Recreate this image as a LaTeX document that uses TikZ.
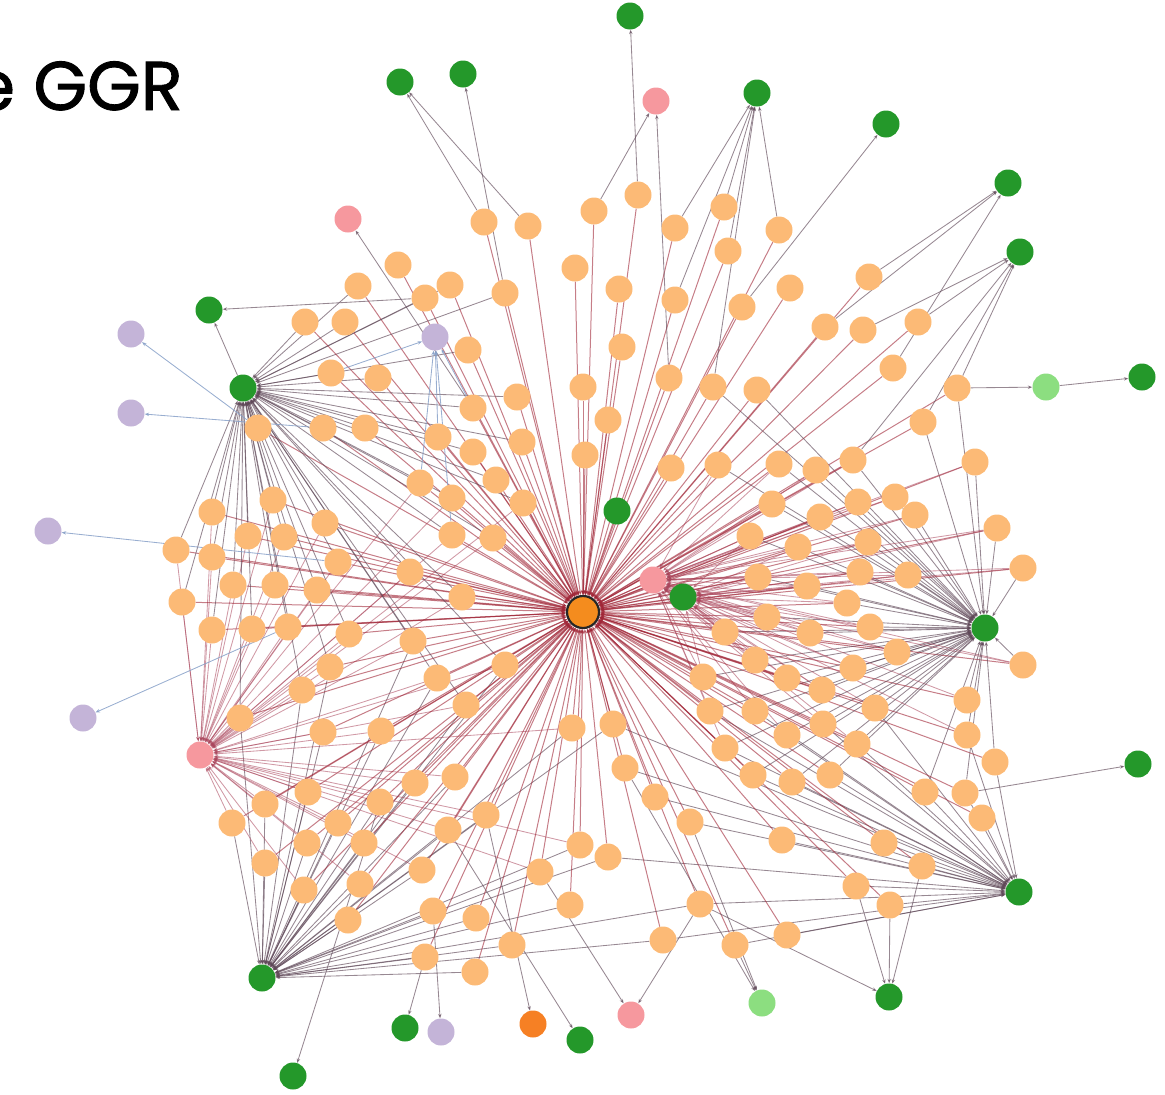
\documentclass[tikz,border=0pt]{standalone}
\usepackage{fontspec}
\newfontfamily\ttlfont[BoldFont=*,BoldFeatures={FakeBold=1.3}]{Poppins}
\usetikzlibrary{arrows.meta,backgrounds}
\definecolor{orn}{RGB}{252,186,118}
\definecolor{grn}{RGB}{36,152,42}
\definecolor{lgrn}{RGB}{140,222,128}
\definecolor{pnk}{RGB}{246,152,158}
\definecolor{prp}{RGB}{196,180,216}
\definecolor{dorn}{RGB}{246,128,36}
\definecolor{hubc}{RGB}{244,140,30}
\definecolor{redl}{RGB}{160,38,55}
\definecolor{grayl}{RGB}{95,72,88}
\definecolor{pinkl}{RGB}{170,70,92}
\definecolor{bluel}{RGB}{135,160,200}
\tikzset{
  vtx/.style={circle,inner sep=0pt,minimum size=27pt,draw=none},
  onode/.style={vtx,fill=orn},
  gnode/.style={vtx,fill=grn,minimum size=27pt},
  lgnode/.style={vtx,fill=lgrn},
  pnode/.style={vtx,fill=pnk},
  unode/.style={vtx,fill=prp},
  dnode/.style={vtx,fill=dorn},
  chub/.style={vtx,fill=hubc,draw=black!85,line width=2.2pt,minimum size=32pt},
  tip/.style={-{Stealth[length=4.5pt,width=3.5pt]}},
  redline/.style={tip,draw=redl,line width=1pt,opacity=0.6},
  grayline/.style={tip,draw=grayl,line width=0.85pt,opacity=0.65},
  pinkline/.style={tip,draw=pinkl,line width=0.85pt,opacity=0.55},
  blueline/.style={tip,draw=bluel,line width=0.85pt,opacity=0.85},
}
\def\olist{484/222, 528/226, 398/265, 358/286, 425/298, 450/285, 505/293, 305/322, 345/322, 468/350,
331/373, 378/378, 517/397, 473/408, 258/428, 323/428, 365/428, 438/437, 473/452, 522/442,
594/211, 638/195, 675/228, 724/207, 779/230, 728/251, 575/268, 619/289, 675/300, 790/288,
742/307, 869/277, 825/327, 863/330, 918/322, 893/368, 622/347, 583/387, 669/378, 713/387,
757/390, 957/388, 923/422, 608/420, 585/455, 671/468, 718/465, 779/464, 816/470, 853/460,
975/462, 420/483, 452/498, 496/480, 523/503, 452/535, 493/538, 273/500, 212/512, 325/523,
248/536, 284/537, 176/550, 212/557, 338/562, 410/572, 233/585, 275/585, 317/590, 462/597,
182/602, 212/630, 252/629, 288/627, 349/634, 413/641, 330/667, 505/665, 437/678, 302/690,
466/705, 240/718, 323/732, 381/731, 572/728, 772/504, 820/517, 858/502, 895/497, 915/515,
997/528, 1023/568, 750/536, 798/547, 868/542, 758/577, 807/586, 860/572, 908/575, 847/603,
767/617, 725/632, 810/633, 870/627, 897/652, 755/660, 703/677, 787/678, 853/668, 822/690,
710/711, 755/711, 875/708, 1023/665, 967/700, 613/724, 823/724, 787/735, 857/744, 967/735,
995/762, 625/768, 725/748, 753/775, 792/782, 830/775, 655/797, 690/822, 925/792, 965/793,
982/818, 608/857, 782/840, 884/843, 922/866, 856/886, 890/905, 700/904, 663/940, 735/945,
787/935, 265/804, 308/792, 232/823, 380/802, 415/783, 455/777, 338/823, 307/843, 364/843,
448/830, 486/815, 265/863, 304/890, 360/884, 422/870, 540/872, 580/845, 348/920, 433/911,
476/918, 512/945, 570/905, 425/957, 475/972}
\begin{document}
\begin{tikzpicture}[x=1pt,y=-1pt]
\useasboundingbox (0,0) rectangle (1165,1095);
\node[anchor=base east,inner sep=0pt,font=\ttlfont\bfseries\fontsize{69}{69}\selectfont] (title) at (183,110) {e GGR};
% hubs
\node[chub] (C) at (583,612) {};
\node[gnode] (G1) at (243,388) {};
\node[gnode] (G2) at (985,628) {};
\node[gnode] (G3) at (1019,892) {};
\node[gnode] (G4) at (262,978) {};
\node[pnode] (P1) at (200,755) {};
\node[pnode] (P2) at (653,580) {};
\node[gnode] (G5) at (683,597) {};
\node[gnode] (G6) at (617,511) {};
% outer nodes
\node[gnode] (T1) at (630,16) {};
\node[gnode] (T2) at (463,74) {};
\node[gnode] (T3) at (400,82) {};
\node[pnode] (K1) at (656,101) {};
\node[gnode] (T4) at (757,93) {};
\node[gnode] (T5) at (886,124) {};
\node[gnode] (T6) at (1008,183) {};
\node[gnode] (T7) at (1020,252) {};
\node[lgnode] (L1) at (1046,387) {};
\node[gnode] (T8) at (1142,377) {};
\node[gnode] (GL) at (209,310) {};
\node[pnode] (K2) at (348,219) {};
\node[unode] (U1) at (131,334) {};
\node[unode] (U2) at (131,413) {};
\node[unode] (U3) at (48,531) {};
\node[unode] (U4) at (83,718) {};
\node[unode] (U5) at (435,337) {};
\node[gnode] (T9) at (1138,764) {};
\node[gnode] (T10) at (889,997) {};
\node[lgnode] (L2) at (762,1003) {};
\node[pnode] (K3) at (631,1015) {};
\node[gnode] (T11) at (580,1040) {};
\node[dnode] (D1) at (533,1024) {};
\node[gnode] (T12) at (405,1028) {};
\node[unode] (U6) at (441,1032) {};
\node[gnode] (T13) at (293,1076) {};
% orange nodes
\foreach \x/\y [count=\i] in \olist {\node[onode] (o\i) at (\x,\y) {};}
\begin{pgfonlayer}{background}
\foreach \x/\y [count=\i] in \olist {
  \draw[redline] (o\i) -- (C);
  \pgfmathtruncatemacro\ca{(\x<540 && \y>280 && \y<720) ? 1 : 0}
  \ifnum\ca=1 \draw[grayline] (o\i) -- (G1); \fi
  \pgfmathtruncatemacro\cb{(\x<600 && \y>480 && \y<900) ? 1 : 0}
  \ifnum\cb=1 \draw[pinkline] (o\i) -- (P1); \fi
  \pgfmathtruncatemacro\cc{(\x<620 && \y>640) ? 1 : 0}
  \ifnum\cc=1 \draw[grayline] (o\i) -- (G4); \fi
  \pgfmathtruncatemacro\cd{(\x>690 && \y>380 && \y<800) ? 1 : 0}
  \ifnum\cd=1 \draw[grayline] (o\i) -- (G2); \fi
  \pgfmathtruncatemacro\ce{(\x>600 && \y>700) ? 1 : 0}
  \ifnum\ce=1 \draw[grayline] (o\i) -- (G3); \fi
  \pgfmathtruncatemacro\cf{(\x>700 && \y>520 && \y<700) ? 1 : 0}
  \ifnum\cf=1 \draw[pinkline] (o\i) -- (G5); \fi
  \pgfmathtruncatemacro\cg{(\x>700 && \y>440 && \y<760) ? 1 : 0}
  \ifnum\cg=1 \draw[pinkline] (o\i) -- (P2); \fi
}
\foreach \h in {G6,P2,G5} \draw[redline] (\h) -- (C);
\draw[grayline] (o22) -- (T1);
\draw[grayline] (o7) -- (T2);
\foreach \s in {o1,o2} \draw[grayline] (\s) -- (T3);
\foreach \s in {o21,o39} \draw[grayline] (\s) -- (K1);
\foreach \s in {o23,o24,o25,o26,o29,o40} \draw[grayline] (\s) -- (T4);
\draw[grayline] (o31) -- (T5);
\foreach \s in {o32,o33,o36} \draw[grayline] (\s) -- (T6);
\foreach \s in {o34,o35,o42,o43,o50} \draw[grayline] (\s) -- (T7);
\draw[grayline] (o42) -- (L1);
\draw[grayline] (L1) -- (T8);
\draw[grayline] (G1) -- (GL);
\draw[grayline] (o5) -- (GL);
\draw[grayline] (o14) -- (K2);
\draw[blueline] (o15) -- (U1);
\draw[blueline] (o16) -- (U2);
\draw[blueline] (o65) -- (U3);
\draw[blueline] (o74) -- (U4);
\foreach \s in {o11,o14,o18,o52,o56} \draw[blueline] (\s) -- (U5);
\draw[grayline] (o130) -- (T9);
\foreach \s in {o135,o136,o137,o138} \draw[grayline] (\s) -- (T10);
\foreach \s in {o122,o128,o140} \draw[grayline] (\s) -- (L2);
\foreach \s in {o157,o138} \draw[grayline] (\s) -- (K3);
\draw[grayline] (o151) -- (T11);
\draw[grayline] (o152) -- (D1);
\draw[grayline] (o164) -- (T12);
\draw[grayline] (o160) -- (U6);
\draw[grayline] (o145) -- (T13);
\foreach \s in {o138,o139} \draw[grayline] (\s) -- (G4);
\end{pgfonlayer}
\end{tikzpicture}
\end{document}
